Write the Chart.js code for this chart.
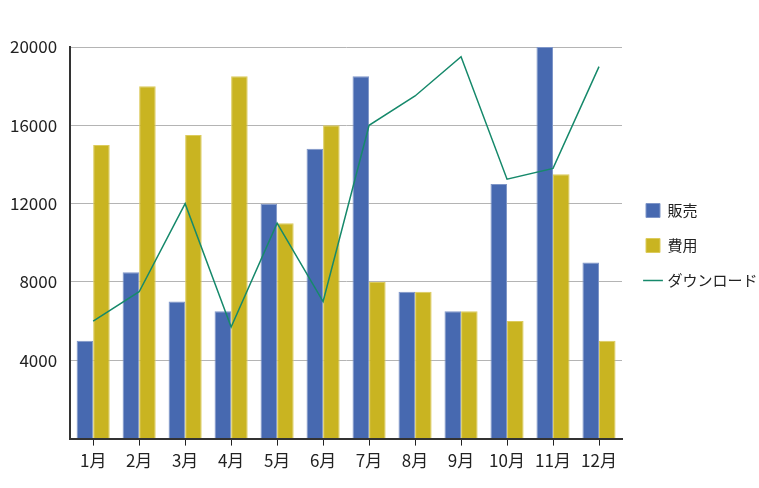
<!DOCTYPE html>
<html>
<head>
<meta charset="utf-8">
<script src="https://cdn.jsdelivr.net/npm/chart.js@4"></script>
<style>
  html, body { margin: 0; padding: 0; background: #fff; }
  #wrap { width: 759px; height: 488px; position: relative; }
</style>
</head>
<body>
<div id="wrap"><canvas id="canvas"></canvas></div>
<script>
// données
const mois = ["1月", "2月", "3月", "4月", "5月", "6月", "7月", "8月", "9月", "10月", "11月", "12月"];
const hanbai = [5000, 8500, 7000, 6500, 12000, 14800, 18500, 7500, 6500, 13000, 20000, 9000];
const hiyou = [15000, 18000, 15500, 18500, 11000, 16000, 8000, 7500, 6500, 6000, 13500, 5000];
const download = [6000, 7500, 12000, 5700, 11000, 7000, 16000, 17500, 19500, 13250, 13800, 19000];

const police = "'Noto Sans CJK JP', 'Noto Sans', sans-serif";

// petit décalage de la légende (un peu plus haut et à droite que le centrage de Chart.js)
const decalageLegende = {
    id: 'decalageLegende',
    afterLayout(chart) {
        const l = chart.legend;
        if (!l) return;
        l.top -= 16;
        l.bottom -= 16;
        l.left += 4;
        l.right += 4;
    }
};

const data = {
    labels: mois,
    datasets: [
        {
            type: 'bar',
            label: '販売',
            data: hanbai,
            backgroundColor: '#4769b0',
            borderColor: '#7f96c8',
            borderWidth: 1,
            pointStyle: 'rect'
        },
        {
            type: 'bar',
            label: '費用',
            data: hiyou,
            backgroundColor: '#c9b421',
            borderColor: '#dccb5c',
            borderWidth: 1,
            pointStyle: 'rect'
        },
        {
            type: 'line',
            label: 'ダウンロード',
            data: download,
            borderColor: '#16896b',
            backgroundColor: '#16896b',
            borderWidth: 1.5,
            tension: 0,
            pointRadius: 0,
            pointStyle: 'line',
            order: -1
        }
    ]
};

const config = {
    type: 'bar',
    data: data,
    plugins: [decalageLegende],
    options: {
        responsive: true,
        maintainAspectRatio: false,
        animation: false,
        layout: { padding: { top: 47, left: -3, right: 0, bottom: 12 } },
        datasets: {
            bar: { categoryPercentage: 0.72, barPercentage: 1.0 }
        },
        plugins: {
            legend: {
                position: 'right',
                maxWidth: 137,
                labels: {
                    usePointStyle: true,
                    boxWidth: 14,
                    boxHeight: 14,
                    padding: 20,
                    color: '#222',
                    font: { family: police, size: 15 },
                    sort: (a, b) => a.datasetIndex - b.datasetIndex
                }
            },
            tooltip: { enabled: false }
        },
        scales: {
            x: {
                grid: {
                    offset: false,
                    drawOnChartArea: false,
                    drawTicks: true,
                    tickLength: 7,
                    color: '#222'
                },
                border: { color: '#333', width: 2 },
                ticks: {
                    color: '#222',
                    padding: 5,
                    font: { family: police, size: 17 }
                }
            },
            y: {
                min: 0,
                max: 20000,
                grid: {
                    drawTicks: false,
                    color: '#b4b4b4',
                    lineWidth: 1
                },
                border: { color: '#333', width: 2 },
                ticks: {
                    stepSize: 4000,
                    padding: 13,
                    color: '#222',
                    font: { family: police, size: 17 },
                    callback: (v) => v === 0 ? '' : v
                }
            }
        }
    }
};

new Chart(document.getElementById("canvas"), config);
</script>
</body>
</html>
